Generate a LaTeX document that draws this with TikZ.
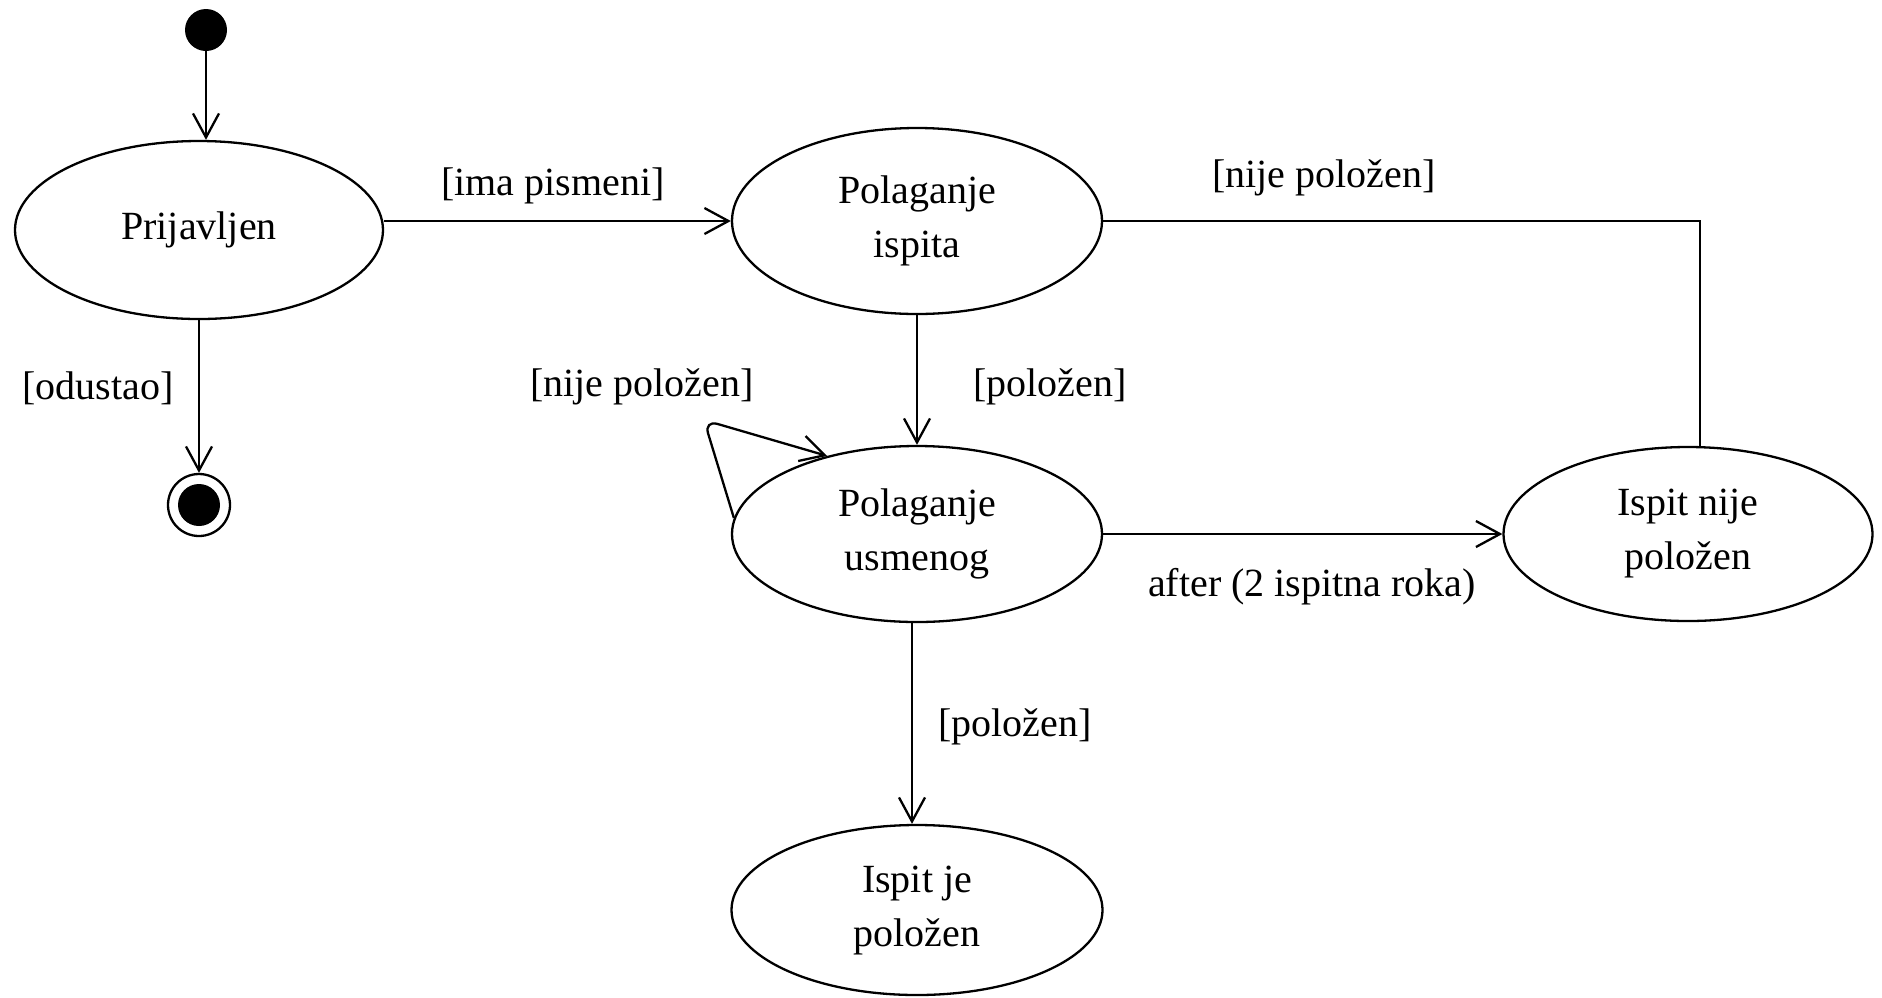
\documentclass[tikz,border=0pt]{standalone}
\usepackage{fontspec}
\setmainfont{Liberation Serif}
\usetikzlibrary{shapes.geometric,arrows.meta}
\begin{document}
\begin{tikzpicture}[x=1pt,y=-1pt,
  state/.style={draw, line width=2.3pt, ellipse, inner sep=0pt, align=center,
    font=\fontsize{40}{54}\selectfont},
  lbl/.style={font=\fontsize{40}{48}\selectfont, inner sep=0pt},
  tr/.style={line width=2.3pt, -{Straight Barb[length=24pt,width=26pt]}},
  plain/.style={line width=2.3pt}]
\fill[white] (0,0) rectangle (1882,997);
\useasboundingbox (0,0) rectangle (1882,997);

\node[circle, fill=black, minimum size=42pt, inner sep=0pt] (init) at (206,30) {};
\node[state, minimum width=368pt, minimum height=178pt] (prij) at (199,230) {Prijavljen};
\node[circle, draw, line width=2.3pt, minimum size=62pt, inner sep=0pt] (final) at (199,505) {};
\node[circle, fill=black, minimum size=42pt, inner sep=0pt] (finaldot) at (final.center) {};
\node[state, minimum width=370pt, minimum height=186pt] (pi) at (917,221) {Polaganje\\ispita};
\node[state, minimum width=370pt, minimum height=176pt] (pu) at (917,534) {Polaganje\\usmenog};
\node[state, minimum width=369pt, minimum height=174pt] (inp) at (1688,534) {Ispit nije\\položen};
\node[state, minimum width=371pt, minimum height=170pt] (ijp) at (917,910) {Ispit je\\položen};

\coordinate (loopc) at (704,420);
\coordinate (turn) at (1700,221);

\draw[tr] (init) -- (init |- prij.north);
\draw[tr] (prij.south) -- (final.north);
\draw[tr] (pi.west -| prij.east) -- (pi.west);
\draw[tr] (pi.south) -- (pu.north);
\draw[plain] (pi.east) -- (turn) -- (turn |- inp.north);
\draw[tr] (pu.east) -- (inp.west);
\draw[tr] ([xshift=-5pt]pu.south) -- ([xshift=-5pt]ijp.north);
\draw[tr, rounded corners=14pt] (pu.175) -- (loopc) -- (pu.139);

\node[lbl] (l1) at (553,186) {[ima pismeni]};
\node[lbl] (l2) at (1324,178) {[nije položen]};
\node[lbl] (l3) at (98,388) {[odustao]};
\node[lbl] (l4) at (1050,387) {[položen]};
\node[lbl] (l5) at (642,387) {[nije položen]};
\node[lbl] (l6) at (1312,587) {after (2 ispitna roka)};
\node[lbl] (l7) at (1015,727) {[položen]};
\end{tikzpicture}
\end{document}
